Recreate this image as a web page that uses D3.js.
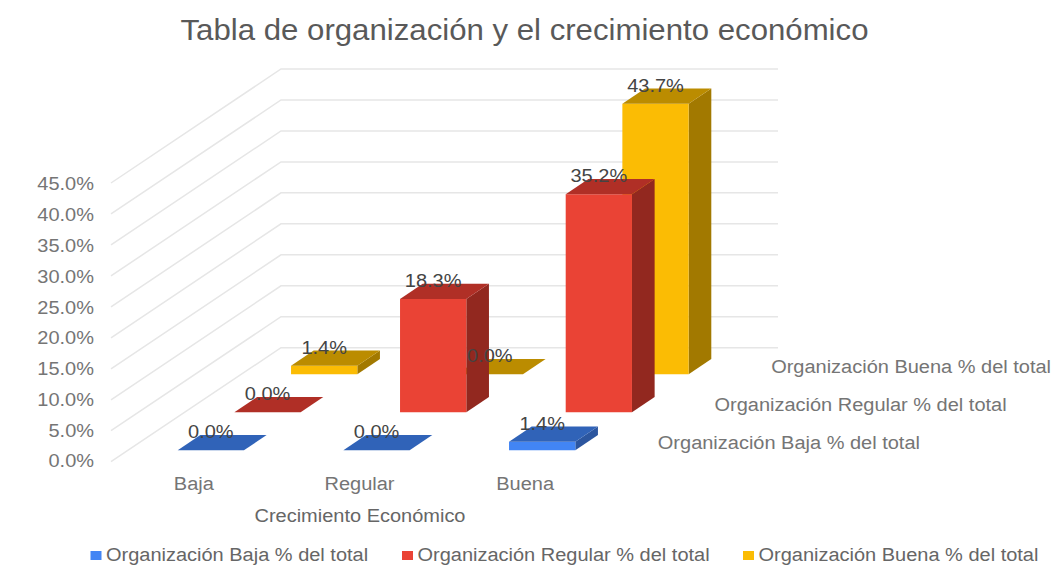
<!DOCTYPE html>
<html>
<head>
<meta charset="utf-8">
<script src="https://cdn.jsdelivr.net/npm/d3@7"></script>
<style>
	html, body { margin: 0; padding: 0; background: #fff; }
	svg { display: block; }
	text { font-family: "Liberation Sans", Arial, sans-serif; }
</style>
</head>
<body>
<svg id="chart" width="1054" height="566"></svg>
<script>
'use strict';

const categories = ['Baja', 'Regular', 'Buena'];
const seriesNames = [
	'Organización Baja % del total',
	'Organización Regular % del total',
	'Organización Buena % del total',
];
const bajaValues = [0.0, 0.0, 1.4];
const regularValues = [0.0, 18.3, 35.2];
const buenaValues = [1.4, 0.0, 43.7];
const yTicks = [0, 5, 10, 15, 20, 25, 30, 35, 40, 45];

const titleText = 'Tabla de organización y el crecimiento económico';
const xAxisTitle = 'Crecimiento Económico';

const seriesValues = [bajaValues, regularValues, buenaValues];
const colours = [
	{front: '#4285f4', top: '#3063b8', side: '#2c569f'},
	{front: '#ea4335', top: '#b02f26', side: '#92281f'},
	{front: '#fbbc04', top: '#bb8c00', side: '#a27900'},
];

const svg = d3.select('#chart');

// the floor of the 3d box: x runs along the categories, depth runs to the back wall
const x = d3.scaleBand().domain(categories).range([111, 608]).paddingInner(0.6).paddingOuter(0.3);
const y = d3.scaleLinear().domain([0, 45]).range([461.7, 183]);
const depth = d3.scaleBand().domain(seriesNames).range([0, 1]).paddingInner(0.6).paddingOuter(0.3);
const depthX = d3.scaleLinear().domain([0, 1]).range([0, 170]);
const depthY = d3.scaleLinear().domain([0, 1]).range([0, -114]);
// the tick labels are a little tighter than the gridlines they belong to
const yLabels = d3.scaleLinear().domain(y.domain()).range([461.2, 184.2]);

function project(px, d, value){
	return [px + depthX(d), y(value) + depthY(d)];
}

// the reference text is wider than the font, so stretch it after it is drawn
function stretch(selection, factor){
	selection.each(function(){
		d3.select(this)
			.attr('textLength', this.getComputedTextLength() * factor)
			.attr('lengthAdjust', 'spacingAndGlyphs');
	});
}

// walls
const grid = svg.append('g').attr('class', 'grid')
	.attr('stroke', '#e6e6e6').attr('stroke-width', 1.5).attr('fill', 'none');
yTicks.forEach(t=>{
	const front = project(x.range()[0], 0, t);
	const corner = project(x.range()[0], 1, t);
	const end = project(x.range()[1], 1, t);
	grid.append('path').attr('d', d3.line()([front, corner, end]));
});

// axes
const yAxis = svg.append('g')
	.attr('transform', 'translate(98,0)')
	.call(d3.axisLeft(yLabels).tickValues(yTicks).tickSize(0).tickPadding(4).tickFormat(d=>d.toFixed(1) + '%'));
yAxis.select('.domain').remove();

const xAxis = svg.append('g')
	.attr('transform', 'translate(0,474)')
	.call(d3.axisBottom(x).tickSize(0).tickPadding(0));
xAxis.select('.domain').remove();
xAxis.selectAll('text').attr('dy', '0.9em');
svg.selectAll('.tick text').attr('font-size', 18).attr('fill', '#757575')
	.style('font-family', '"Liberation Sans", Arial, sans-serif')
	.call(stretch, 1.11);

svg.append('text').attr('x', 360).attr('y', 522).attr('text-anchor', 'middle')
	.attr('font-size', 18).attr('fill', '#666').text(xAxisTitle)
	.call(stretch, 1.11);

svg.append('text').attr('x', 524.5).attr('y', 40).attr('text-anchor', 'middle')
	.attr('font-size', 29).attr('fill', '#595959').text(titleText)
	.call(stretch, 1.075);

// series names along the depth axis
seriesNames.forEach(name=>{
	const d = depth(name) + depth.bandwidth() / 2;
	svg.append('text')
		.attr('x', project(x.range()[1] + 21.5, d, 0)[0])
		.attr('y', project(0, d, 0)[1] + 6.5)
		.attr('font-size', 18).attr('fill', '#757575').text(name)
		.call(stretch, 1.11);
});

// bars, back series first so the front ones cover them
const labels = [];
const bars = svg.append('g').attr('class', 'bars');
seriesNames.slice().reverse().forEach(name=>{
	const s = seriesNames.indexOf(name);
	const d0 = depth(name);
	const d1 = d0 + depth.bandwidth();
	categories.forEach((cat, c)=>{
		const value = seriesValues[s][c];
		const x0 = x(cat);
		const x1 = x0 + x.bandwidth();
		const face = (pts, fill)=>{
			bars.append('polygon').attr('points', pts.map(p=>p.join(',')).join(' ')).attr('fill', fill);
		};
		face([project(x1, d0, 0), project(x1, d1, 0), project(x1, d1, value), project(x1, d0, value)], colours[s].side);
		face([project(x0, d0, 0), project(x1, d0, 0), project(x1, d0, value), project(x0, d0, value)], colours[s].front);
		face([project(x0, d0, value), project(x1, d0, value), project(x1, d1, value), project(x0, d1, value)], colours[s].top);
		const p = project(x0 + x.bandwidth() / 2, d0, value);
		labels.push({x: p[0], y: p[1] - 12, text: value.toFixed(1) + '%'});
	});
});

// data labels sit above all the bars
svg.append('g').selectAll('text').data(labels).enter().append('text')
	.attr('x', d=>d.x).attr('y', d=>d.y).attr('text-anchor', 'middle')
	.attr('font-size', 18).attr('fill', '#444').text(d=>d.text)
	.call(stretch, 1.11);

// legend
const legendX = d3.scaleOrdinal().domain(seriesNames).range([90.5, 402, 743]);
const legend = svg.append('g').selectAll('g').data(seriesNames).enter().append('g')
	.attr('transform', d=>'translate(' + legendX(d) + ',0)');
legend.append('rect').attr('y', 551).attr('width', 11).attr('height', 9)
	.attr('fill', (d,i)=>colours[i].front);
legend.append('text').attr('x', 15.5).attr('y', 561).attr('font-size', 18).attr('fill', '#666').text(d=>d)
	.call(stretch, 1.11);
</script>
</body>
</html>
